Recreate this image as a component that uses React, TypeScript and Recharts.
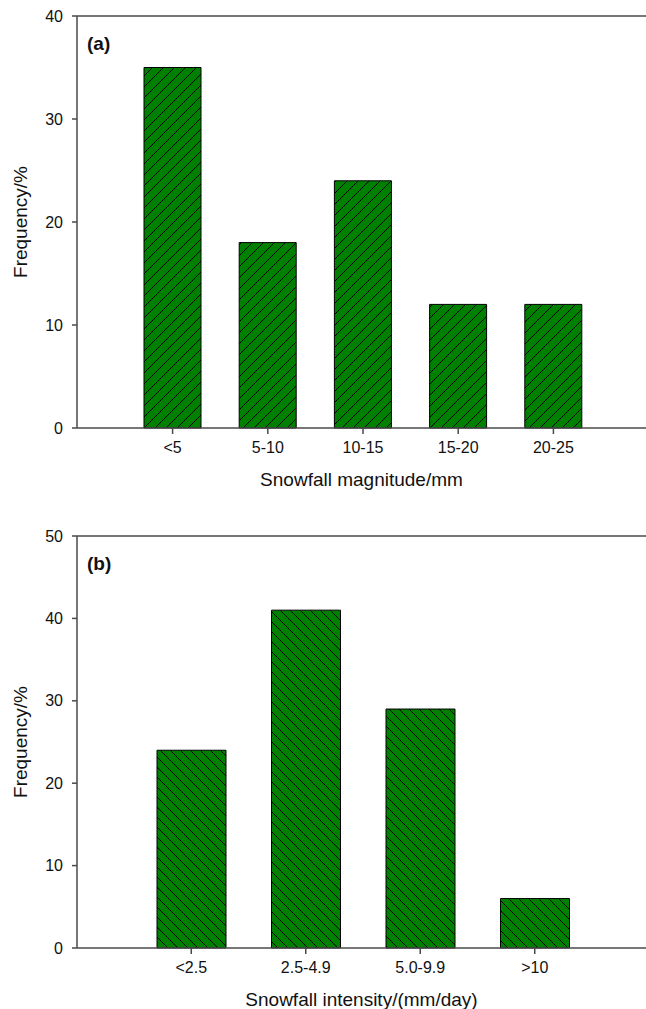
import React from 'react';
import { BarChart, Bar, XAxis, YAxis, ReferenceLine } from 'recharts';

const magnitudeCats = ['<5', '5-10', '10-15', '15-20', '20-25'];
const magnitudeFreq = [35, 18, 24, 12, 12];
const magnitudeTicks = [0, 10, 20, 30, 40];

const intensityCats = ['<2.5', '2.5-4.9', '5.0-9.9', '>10'];
const intensityFreq = [24, 41, 29, 6];
const intensityTicks = [0, 10, 20, 30, 40, 50];

const FONT = '"Liberation Sans", Arial, sans-serif';
const AXIS = '#4a4a4a';
const GREEN = '#008000';

const magnitudeData = magnitudeCats.map((c, i) => ({ cat: c, freq: magnitudeFreq[i] }));
const intensityData = intensityCats.map((c, i) => ({ cat: c, freq: intensityFreq[i] }));

function yTitle(props: any) {
  const vb = props.viewBox || {};
  const cy = (vb.y ?? 0) + (vb.height ?? 0) / 2;
  return (
    <text x={20} y={cy} transform={`rotate(-90 20 ${cy})`} textAnchor="middle" dominantBaseline="central"
      fontSize={19} fontFamily={FONT} fill="#111">
      Frequency/%
    </text>
  );
}

function xTitle(text: string) {
  return (props: any) => {
    const vb = props.viewBox || {};
    const cx = 361.5;
    return (
      <text x={cx} y={(vb.y ?? 0) + 58} textAnchor="middle" fontSize={19} fontFamily={FONT} fill="#111">
        {text}
      </text>
    );
  };
}

interface PanelProps {
  data: { cat: string; freq: number }[];
  ticks: number[];
  max: number;
  height: number;
  top: number;
  xHeight: number;
  barSize: number;
  padL: number;
  padR: number;
  patternId: string;
  slash: boolean;
  xLabel: string;
  tag: string;
}

function Panel(p: PanelProps) {
  const s = p.slash ? 11 : 10;
  const path = p.slash
    ? `M0,${s} L${s},0 M-1,1 L1,-1 M${s - 1},${s + 1} L${s + 1},${s - 1}`
    : `M0,0 L${s},${s} M-1,${s - 1} L1,${s + 1} M${s - 1},-1 L${s + 1},1`;
  return (
    <div style={{ position: 'relative', width: 646, height: p.height }}>
      <BarChart width={646} height={p.height} data={p.data}
        margin={{ top: p.top, right: 0, left: 0, bottom: 0 }}>
        <defs>
          <pattern id={p.patternId} patternUnits="userSpaceOnUse" width={s} height={s}>
            <rect width={s} height={s} fill={GREEN} />
            <path d={path} stroke="#000" strokeWidth={1} />
          </pattern>
        </defs>
        <XAxis dataKey="cat" height={p.xHeight} padding={{ left: p.padL, right: p.padR }}
          stroke={AXIS} strokeWidth={1.5} tickSize={6} tickMargin={8}
          tick={{ fill: '#111', fontSize: 16, fontFamily: FONT }}
          label={xTitle(p.xLabel)} />
        <YAxis yAxisId="l" width={77} domain={[0, p.max]} ticks={p.ticks} interval={0}
          stroke={AXIS} strokeWidth={1.5} tickSize={5} tickMargin={9}
          tick={{ fill: '#111', fontSize: 16, fontFamily: FONT }}
          label={yTitle} />
        <YAxis yAxisId="r" orientation="right" width={0} domain={[0, p.max]} tick={false}
          stroke="#888" />
        <ReferenceLine yAxisId="l" y={p.max} stroke={AXIS} strokeWidth={1.5} />
        <Bar yAxisId="l" dataKey="freq" barSize={p.barSize} fill={`url(#${p.patternId})`}
          stroke="#000" strokeWidth={1} isAnimationActive={false} />
      </BarChart>
      <div style={{ position: 'absolute', left: 87, top: p.top + 17, fontFamily: FONT,
        fontWeight: 'bold', fontSize: 19, lineHeight: '22px', color: '#111' }}>
        {p.tag}
      </div>
    </div>
  );
}

export default function App() {
  return (
    <div style={{ position: 'absolute', left: 0, top: 0, width: 646, height: 1009,
      overflow: 'hidden', background: '#fff' }}>
      <Panel data={magnitudeData} ticks={magnitudeTicks} max={40} height={500} top={16}
        xHeight={72} barSize={57} padL={48} padR={45} patternId="hatchA" slash
        xLabel="Snowfall magnitude/mm" tag="(a)" />
      <Panel data={intensityData} ticks={intensityTicks} max={50} height={509} top={36}
        xHeight={61} barSize={69} padL={57} padR={54} patternId="hatchB" slash={false}
        xLabel="Snowfall intensity/(mm/day)" tag="(b)" />
    </div>
  );
}
